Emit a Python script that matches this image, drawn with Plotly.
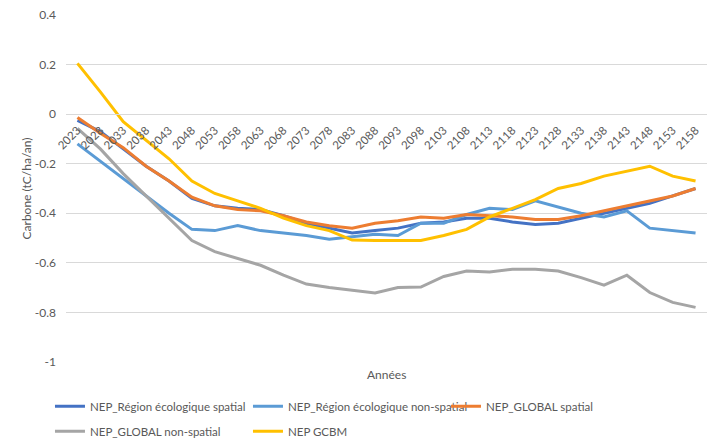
import plotly.graph_objects as go

# années (tous les 5 ans)
annees = [str(a) for a in range(2023, 2159, 5)]

nep_region_spatial = [-0.025, -0.07, -0.14, -0.21, -0.27, -0.34, -0.37, -0.38, -0.385, -0.41,
                      -0.44, -0.46, -0.48, -0.47, -0.46, -0.44, -0.435, -0.42, -0.42, -0.435,
                      -0.445, -0.44, -0.42, -0.40, -0.38, -0.36, -0.33, -0.30]
nep_region_nonspatial = [-0.12, -0.19, -0.26, -0.33, -0.40, -0.465, -0.47, -0.45, -0.47, -0.48,
                         -0.49, -0.505, -0.495, -0.485, -0.49, -0.44, -0.44, -0.405, -0.38, -0.385,
                         -0.35, -0.375, -0.40, -0.415, -0.39, -0.46, -0.47, -0.48]
nep_global_spatial = [-0.013, -0.077, -0.135, -0.21, -0.27, -0.335, -0.37, -0.385, -0.39, -0.41,
                      -0.435, -0.45, -0.46, -0.44, -0.43, -0.415, -0.42, -0.405, -0.41, -0.415,
                      -0.425, -0.425, -0.41, -0.39, -0.37, -0.35, -0.33, -0.30]
nep_global_nonspatial = [-0.057, -0.14, -0.24, -0.33, -0.42, -0.51, -0.555, -0.583, -0.61, -0.65,
                         -0.686, -0.70, -0.71, -0.722, -0.70, -0.698, -0.655, -0.633, -0.637, -0.626,
                         -0.626, -0.633, -0.66, -0.69, -0.65, -0.72, -0.76, -0.78]
nep_gcbm = [0.205, 0.09, -0.03, -0.105, -0.18, -0.27, -0.32, -0.35, -0.38, -0.42,
            -0.45, -0.47, -0.508, -0.51, -0.51, -0.51, -0.49, -0.465, -0.415, -0.38,
            -0.345, -0.30, -0.28, -0.25, -0.23, -0.21, -0.25, -0.27]

y_ticks = [0.4, 0.2, 0, -0.2, -0.4, -0.6, -0.8, -1]
y_labels = ["0.4", "0.2", "0", "-0.2", "-0.4", "-0.6", "-0.8", "-1"]

# (nom, valeurs, couleur, légende)
series = [
    ("NEP_Région écologique spatial", nep_region_spatial, "#4472C4", "legend"),
    ("NEP_Région écologique non-spatial", nep_region_nonspatial, "#5B9BD5", "legend"),
    ("NEP_GLOBAL spatial", nep_global_spatial, "#ED7D31", "legend"),
    ("NEP_GLOBAL non-spatial", nep_global_nonspatial, "#A5A5A5", "legend2"),
    ("NEP GCBM", nep_gcbm, "#FFC000", "legend2"),
]

fig = go.Figure()
for nom, vals, col, leg in series:
    fig.add_trace(go.Scatter(x=annees, y=vals, mode="lines", name=nom, legend=leg,
                             line=dict(color=col, width=3)))

txt = "#595959"
leg_style = dict(orientation="h", x=-0.025, xanchor="left", yanchor="top",
                 entrywidth=153, entrywidthmode="pixels", itemwidth=30,
                 font=dict(size=11.5, color=txt))

ymin, ymax = -1.0005, 0.4005
# la page ajoute 8 px de marge autour de la figure
fig.update_layout(
    width=704, height=432,
    margin=dict(l=58, r=5, t=7, b=78, autoexpand=False),
    paper_bgcolor="white", plot_bgcolor="white",
    font=dict(family="Lato, Open Sans, sans-serif", size=12, color=txt),
    xaxis=dict(type="category", range=[-0.5, len(annees) - 0.5],
               anchor="free", position=-ymin / (ymax - ymin),
               tickangle=-45, showgrid=False, showline=True, linecolor="#D9D9D9",
               ticks="", tickfont=dict(size=11.5, color=txt), ticklabelstandoff=4),
    yaxis=dict(range=[ymin, ymax], tickvals=y_ticks, ticktext=y_labels,
               showgrid=True, gridcolor="#D9D9D9", zeroline=False,
               ticks="", tickfont=dict(size=12, color=txt), ticklabelstandoff=9,
               ticklabeloverflow="allow",
               title=dict(text="Carbone (tC/ha/an)", font=dict(size=12, color=txt), standoff=0)),
    legend=dict(y=-0.086, **leg_style),
    legend2=dict(y=-0.158, **leg_style),
    annotations=[dict(text="Années", x=0.5, y=-0.063, xref="paper", yref="paper",
                      showarrow=False, font=dict(size=12, color=txt))],
)

fig.write_html("out.html")
